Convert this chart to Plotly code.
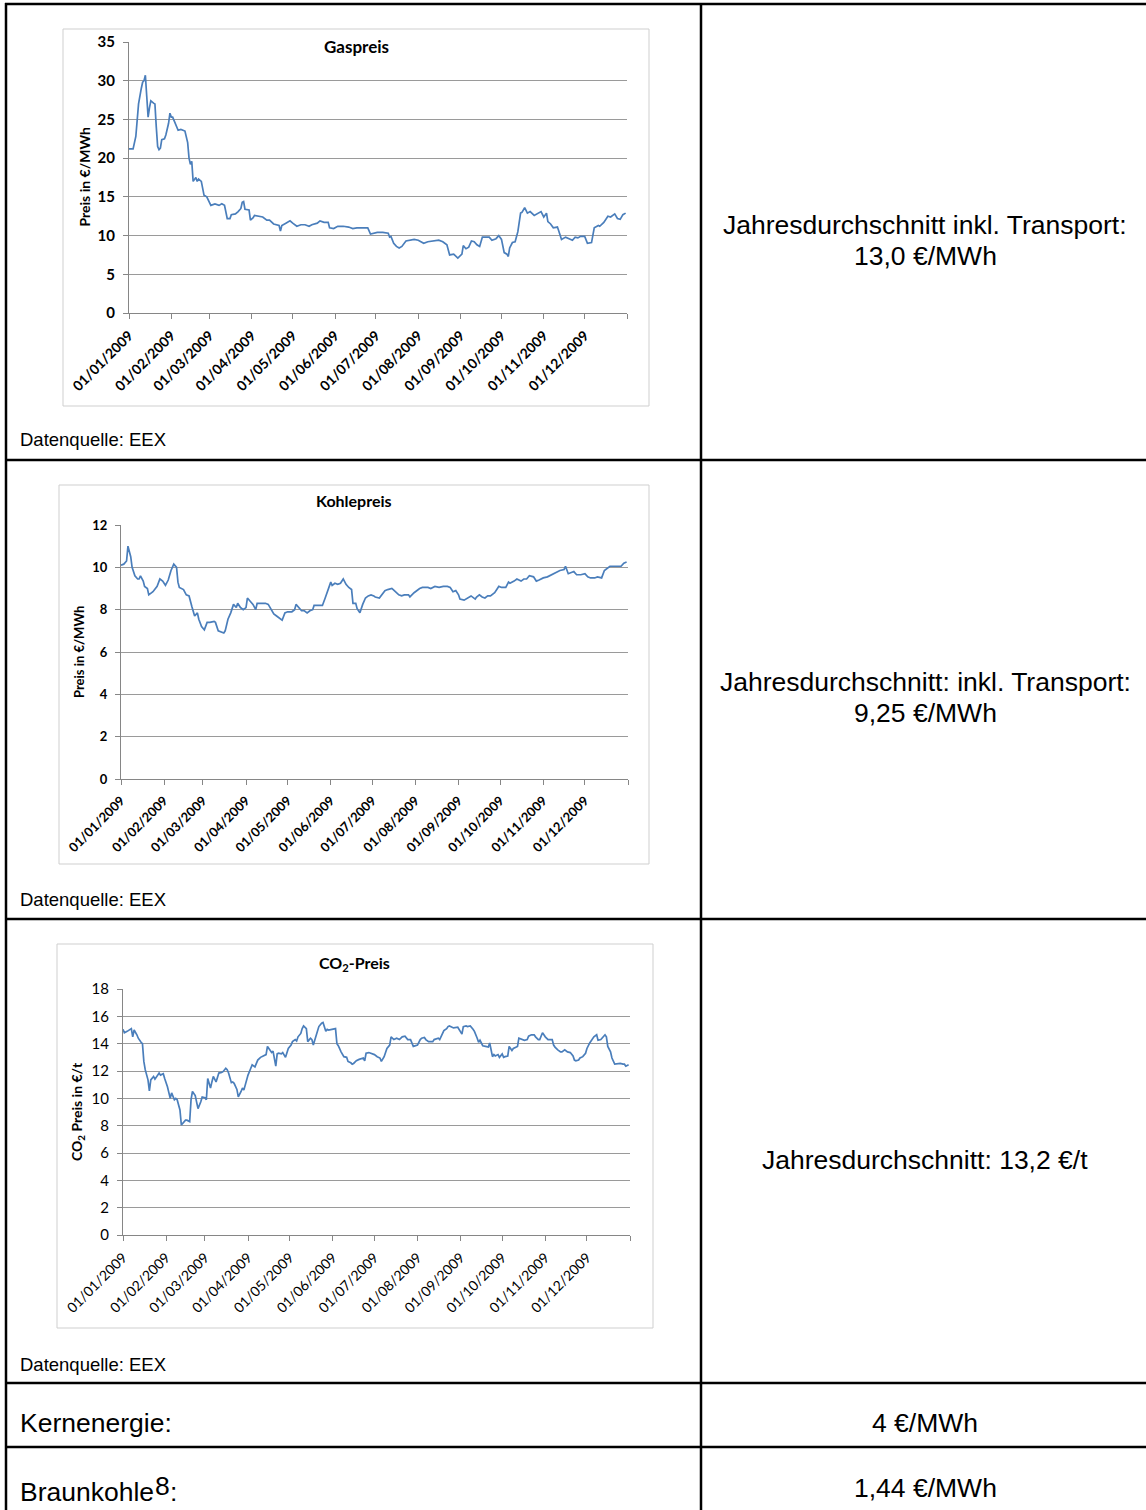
import plotly.graph_objects as go

# ---------------- data ----------------
YEAR = "2009"
month_ticks = ["2009-01-01", "2009-02-01", "2009-03-01", "2009-04-01", "2009-05-01", "2009-06-01",
               "2009-07-01", "2009-08-01", "2009-09-01", "2009-10-01", "2009-11-01", "2009-12-01"]
month_labels = ["01/01/2009", "01/02/2009", "01/03/2009", "01/04/2009", "01/05/2009", "01/06/2009",
                "01/07/2009", "01/08/2009", "01/09/2009", "01/10/2009", "01/11/2009", "01/12/2009"]
axis_end = "2010-01-01"

gas_days = ["01-01", "01-04", "01-06", "01-07", "01-08", "01-10", "01-11", "01-12", "01-13", "01-14",
            "01-15", "01-16", "01-17", "01-19", "01-20", "01-21", "01-22", "01-23", "01-24", "01-25",
            "01-27", "01-28", "01-30", "01-31", "02-01", "02-02", "02-04", "02-05", "02-06", "02-08",
            "02-11", "02-13", "02-14", "02-15", "02-16", "02-17", "02-19", "02-20", "02-21", "02-23",
            "02-25", "02-27", "03-01", "03-02", "03-05", "03-08", "03-10", "03-12", "03-14", "03-16",
            "03-17", "03-20", "03-22", "03-24", "03-25", "03-26", "03-27", "03-30", "03-31", "04-02",
            "04-03", "04-06", "04-09", "04-12", "04-14", "04-17", "04-21", "04-22", "04-23", "04-26",
            "04-29", "05-01", "05-04", "05-07", "05-10", "05-13", "05-15", "05-19", "05-21", "05-24",
            "05-27", "05-28", "05-31", "06-03", "06-07", "06-11", "06-14", "06-17", "06-21", "06-25",
            "06-27", "06-29", "07-02", "07-06", "07-10", "07-11", "07-12", "07-14", "07-16", "07-18",
            "07-20", "07-23", "07-26", "07-29", "08-01", "08-03", "08-05", "08-08", "08-12", "08-16",
            "08-19", "08-22", "08-24", "08-27", "08-30", "09-02", "09-03", "09-05", "09-07", "09-09",
            "09-11", "09-13", "09-15", "09-17", "09-20", "09-22", "09-24", "09-27", "09-29", "10-01",
            "10-03", "10-05", "10-06", "10-07", "10-09", "10-11", "10-13", "10-15", "10-16", "10-18",
            "10-20", "10-22", "10-25", "10-27", "10-30", "11-01", "11-03", "11-04", "11-06", "11-08",
            "11-11", "11-12", "11-14", "11-17", "11-19", "11-22", "11-24", "11-26", "11-28", "12-01",
            "12-03", "12-06", "12-08", "12-11", "12-12", "12-15", "12-18", "12-20", "12-23", "12-25",
            "12-27", "12-29", "12-31"]
gas_values = [21.2, 21.2, 22.8, 25.0, 27.0, 29.0, 29.8, 30.0, 30.7, 28.0,
              25.3, 26.5, 27.4, 27.1, 27.0, 24.0, 21.5, 21.1, 21.3, 22.4,
              22.5, 23.0, 24.5, 25.8, 25.3, 25.3, 24.5, 24.0, 23.6, 23.7,
              23.5, 22.0, 20.0, 19.2, 19.6, 17.0, 17.5, 17.0, 17.3, 17.0,
              15.2, 15.0, 14.2, 13.9, 14.1, 13.9, 14.1, 13.9, 12.2, 12.2,
              12.7, 12.8, 13.1, 13.5, 14.3, 14.4, 13.4, 13.3, 12.0, 12.3,
              12.6, 12.5, 12.4, 12.0, 12.0, 11.5, 11.3, 10.6, 11.3, 11.6,
              11.9, 11.6, 11.2, 11.4, 11.4, 11.2, 11.4, 11.6, 11.9, 11.7,
              11.7, 11.0, 10.9, 11.2, 11.2, 11.1, 10.9, 11.0, 11.0, 11.0,
              10.2, 10.3, 10.4, 10.4, 10.3, 9.8, 9.9, 9.0, 8.6, 8.4,
              8.6, 9.3, 9.4, 9.5, 9.4, 9.2, 9.0, 9.2, 9.3, 9.4,
              9.2, 8.8, 7.5, 7.6, 7.1, 7.6, 8.7, 8.3, 8.5, 9.3,
              9.2, 8.8, 8.6, 9.8, 9.8, 9.8, 9.4, 9.6, 10.0, 9.5,
              7.8, 7.6, 7.3, 8.4, 9.1, 9.2, 10.5, 12.9, 13.0, 13.6,
              12.9, 13.1, 12.6, 12.8, 13.1, 12.4, 12.9, 11.8, 11.5, 11.0,
              11.1, 10.6, 9.5, 9.8, 9.6, 9.4, 9.8, 9.7, 9.9, 9.9,
              9.0, 9.1, 11.0, 11.3, 11.2, 11.7, 12.5, 12.4, 12.8, 12.2,
              12.1, 12.7, 12.9]

coal_days = ["01-01", "01-03", "01-05", "01-06", "01-08", "01-09", "01-11", "01-13", "01-14", "01-15",
             "01-17", "01-18", "01-20", "01-21", "01-24", "01-26", "01-27", "01-29", "01-31", "02-02",
             "02-04", "02-06", "02-08", "02-10", "02-11", "02-12", "02-15", "02-17", "02-19", "02-21",
             "02-23", "02-25", "02-26", "02-28", "03-02", "03-04", "03-06", "03-09", "03-10", "03-12",
             "03-14", "03-16", "03-17", "03-19", "03-21", "03-23", "03-25", "03-26", "03-28", "03-30",
             "04-01", "04-02", "04-04", "04-06", "04-08", "04-09", "04-12", "04-15", "04-17", "04-19",
             "04-21", "04-23", "04-25", "04-27", "04-29", "05-01", "05-04", "05-06", "05-07", "05-09",
             "05-11", "05-13", "05-15", "05-17", "05-19", "05-20", "05-23", "05-26", "05-28", "05-30",
             "06-01", "06-02", "06-04", "06-06", "06-08", "06-10", "06-12", "06-14", "06-16", "06-17",
             "06-19", "06-20", "06-22", "06-24", "06-26", "06-28", "06-30", "07-02", "07-03", "07-06",
             "07-08", "07-10", "07-12", "07-15", "07-16", "07-18", "07-20", "07-22", "07-24", "07-27",
             "07-28", "07-31", "08-02", "08-04", "08-06", "08-10", "08-12", "08-15", "08-18", "08-21",
             "08-24", "08-26", "08-28", "08-30", "09-01", "09-02", "09-05", "09-08", "09-10", "09-13",
             "09-14", "09-16", "09-18", "09-20", "09-22", "09-24", "09-27", "09-29", "09-30", "10-02",
             "10-05", "10-07", "10-08", "10-11", "10-13", "10-16", "10-18", "10-20", "10-22", "10-25",
             "10-27", "10-29", "11-01", "11-04", "11-07", "11-10", "11-13", "11-16", "11-17", "11-19",
             "11-21", "11-23", "11-25", "11-28", "12-01", "12-03", "12-05", "12-08", "12-10", "12-13",
             "12-15", "12-17", "12-19", "12-21", "12-24", "12-27", "12-29", "12-31"]
coal_values = [10.1, 10.15, 10.3, 11.0, 10.5, 10.0, 9.6, 9.45, 9.45, 9.6,
               9.35, 9.1, 9.0, 8.7, 8.85, 9.0, 9.1, 9.45, 9.35, 9.15,
               9.4, 9.85, 10.15, 10.0, 9.3, 9.05, 8.95, 8.7, 8.65, 8.15,
               7.7, 7.85, 7.55, 7.2, 7.05, 7.4, 7.4, 7.45, 7.4, 7.0,
               6.95, 6.9, 7.0, 7.55, 7.85, 8.25, 8.1, 8.3, 8.1, 8.0,
               8.1, 8.55, 8.4, 8.25, 8.0, 8.3, 8.3, 8.3, 8.25, 8.0,
               7.8, 7.7, 7.6, 7.5, 7.85, 7.9, 7.9, 8.0, 8.25, 8.1,
               7.95, 7.95, 7.85, 7.95, 8.0, 8.2, 8.2, 8.2, 8.55, 8.9,
               9.3, 9.15, 9.25, 9.2, 9.25, 9.45, 9.2, 9.05, 8.95, 8.3,
               8.3, 8.05, 7.85, 8.25, 8.55, 8.65, 8.7, 8.65, 8.6, 8.55,
               8.7, 8.9, 8.95, 9.0, 8.95, 8.8, 8.7, 8.65, 8.7, 8.7,
               8.6, 8.8, 8.9, 9.0, 9.05, 9.05, 9.0, 9.1, 9.05, 9.1,
               9.1, 9.05, 8.85, 8.9, 8.7, 8.5, 8.45, 8.55, 8.65, 8.5,
               8.6, 8.7, 8.6, 8.55, 8.65, 8.65, 8.8, 9.0, 9.1, 9.05,
               9.05, 9.3, 9.25, 9.35, 9.45, 9.35, 9.45, 9.45, 9.6, 9.55,
               9.35, 9.4, 9.5, 9.55, 9.65, 9.75, 9.85, 9.9, 10.05, 9.7,
               9.75, 9.8, 9.65, 9.65, 9.7, 9.55, 9.5, 9.5, 9.55, 9.5,
               9.85, 9.95, 10.05, 10.05, 10.05, 10.05, 10.2, 10.25]

co2_days = ["01-01", "01-02", "01-04", "01-05", "01-07", "01-08", "01-09", "01-11", "01-12", "01-14",
            "01-15", "01-16", "01-17", "01-19", "01-20", "01-21", "01-23", "01-24", "01-26", "01-27",
            "01-28", "01-30", "01-31", "02-01", "02-02", "02-04", "02-05", "02-07", "02-08", "02-09",
            "02-11", "02-12", "02-14", "02-15", "02-16", "02-18", "02-19", "02-20", "02-22", "02-23",
            "02-24", "02-26", "02-27", "03-01", "03-02", "03-03", "03-05", "03-06", "03-07", "03-09",
            "03-10", "03-11", "03-13", "03-14", "03-16", "03-17", "03-18", "03-20", "03-21", "03-22",
            "03-24", "03-25", "03-27", "03-28", "03-29", "03-31", "04-01", "04-03", "04-04", "04-06",
            "04-07", "04-08", "04-10", "04-12", "04-14", "04-15", "04-17", "04-18", "04-19", "04-21",
            "04-22", "04-23", "04-25", "04-26", "04-28", "04-29", "04-30", "05-02", "05-03", "05-05",
            "05-06", "05-07", "05-09", "05-10", "05-11", "05-13", "05-14", "05-16", "05-17", "05-18",
            "05-20", "05-21", "05-22", "05-24", "05-25", "05-27", "05-28", "05-29", "05-31", "06-01",
            "06-03", "06-04", "06-05", "06-07", "06-08", "06-09", "06-11", "06-12", "06-14", "06-15",
            "06-16", "06-18", "06-20", "06-23", "06-24", "06-25", "06-27", "06-29", "07-01", "07-03",
            "07-05", "07-06", "07-08", "07-10", "07-12", "07-13", "07-15", "07-17", "07-19", "07-21",
            "07-23", "07-25", "07-27", "07-29", "07-30", "08-01", "08-03", "08-04", "08-06", "08-07",
            "08-09", "08-12", "08-13", "08-16", "08-17", "08-19", "08-20", "08-22", "08-23", "08-24",
            "08-26", "08-27", "08-30", "08-31", "09-02", "09-03", "09-05", "09-06", "09-08", "09-10",
            "09-11", "09-13", "09-14", "09-15", "09-17", "09-19", "09-21", "09-22", "09-24", "09-25",
            "09-26", "09-28", "09-29", "10-01", "10-02", "10-03", "10-05", "10-06", "10-08", "10-09",
            "10-12", "10-13", "10-15", "10-17", "10-19", "10-20", "10-22", "10-24", "10-25", "10-27",
            "10-28", "10-30", "10-31", "11-01", "11-03", "11-06", "11-07", "11-08", "11-10", "11-12",
            "11-13", "11-15", "11-17", "11-19", "11-21", "11-22", "11-23", "11-25", "11-26", "11-28",
            "11-30", "12-01", "12-03", "12-05", "12-06", "12-08", "12-09", "12-11", "12-12", "12-14",
            "12-15", "12-16", "12-18", "12-19", "12-21", "12-23", "12-25", "12-27", "12-28", "12-29",
            "12-31"]
co2_values = [15.05, 14.8, 14.9, 14.95, 15.1, 14.5, 15.0, 14.65, 14.4, 14.1,
              14.0, 12.7, 12.1, 11.35, 10.55, 11.35, 11.6, 11.4, 11.7, 11.85,
              11.7, 11.8, 11.45, 11.2, 10.85, 10.0, 10.4, 9.9, 10.0, 9.9,
              9.15, 8.05, 8.3, 8.4, 8.4, 8.3, 9.9, 10.5, 10.2, 9.7,
              9.25, 9.75, 10.1, 10.05, 9.9, 11.45, 10.75, 11.2, 11.6, 11.2,
              11.6, 11.85, 11.9, 11.95, 12.2, 12.1, 11.85, 11.15, 11.2, 11.1,
              10.65, 10.1, 10.5, 10.75, 10.6, 11.35, 11.7, 12.2, 12.45, 12.3,
              12.6, 12.8, 13.0, 13.1, 13.2, 13.8, 13.45, 13.35, 13.45, 12.35,
              13.25, 13.3, 13.25, 13.35, 13.0, 13.35, 13.65, 13.9, 14.15, 14.3,
              14.2, 14.5, 14.75, 15.1, 15.3, 15.1, 14.15, 14.4, 14.3, 13.9,
              14.5, 14.9, 15.25, 15.5, 15.55, 14.9, 15.05, 15.0, 15.05, 15.1,
              15.1, 14.0, 13.85, 13.4, 13.2, 13.05, 13.0, 12.7, 12.6, 12.5,
              12.55, 12.75, 12.85, 12.95, 12.75, 13.3, 13.35, 13.3, 13.2, 13.05,
              12.95, 12.7, 13.05, 13.65, 13.9, 14.5, 14.3, 14.4, 14.3, 14.5,
              14.55, 14.3, 14.3, 13.8, 13.85, 13.9, 14.3, 14.4, 14.45, 14.3,
              14.15, 14.15, 14.3, 14.4, 14.3, 14.8, 14.95, 15.1, 15.25, 15.3,
              15.2, 15.15, 15.2, 15.05, 14.7, 15.25, 15.3, 15.25, 15.3, 15.05,
              14.9, 14.4, 14.1, 14.25, 13.85, 13.8, 13.75, 14.05, 13.05, 13.2,
              13.1, 13.2, 13.0, 13.25, 13.0, 13.05, 13.1, 13.8, 13.5, 13.65,
              13.8, 14.4, 14.3, 14.25, 14.3, 14.55, 14.65, 14.65, 14.5, 14.3,
              14.3, 14.8, 14.65, 14.5, 14.3, 14.3, 13.9, 13.75, 13.55, 13.4,
              13.4, 13.55, 13.4, 13.35, 13.1, 12.8, 12.75, 12.8, 12.95, 13.05,
              13.3, 13.65, 14.05, 14.3, 14.5, 14.65, 14.25, 14.3, 14.4, 14.65,
              14.5, 13.8, 13.4, 12.95, 12.5, 12.55, 12.55, 12.5, 12.5, 12.35,
              12.45]

chart_titles = ["Gaspreis", "Kohlepreis", "CO<sub>2</sub>-Preis"]
y_titles = ["Preis in €/MWh", "Preis in €/MWh", "CO<sub>2</sub> Preis in €/t"]
y_max = [35, 12, 18]
y_step = [5, 2, 2]

right_texts = [["Jahresdurchschnitt inkl. Transport:", "13,0 €/MWh"],
               ["Jahresdurchschnitt: inkl. Transport:", "9,25 €/MWh"],
               ["Jahresdurchschnitt: 13,2 €/t"]]
source_text = "Datenquelle: EEX"
nuclear_label, nuclear_value = "Kernenergie:", "4 €/MWh"
lignite_label, lignite_note, lignite_colon, lignite_value = "Braunkohle", "8", ":", "1,44 €/MWh"

# ---------------- layout helpers ----------------
W, H = 1146, 1510


def fx(x):
    return x / W


def fy(y):
    return 1 - y / H


LINE_COLOR = "#4A7EBB"
GRID = "#9a9a9a"
AXIS = "#868686"
CHART_FONT = "Lato"
TABLE_FONT = "Liberation Sans, Arial"
TSIZE = 26.5

series = [
    ([f"{YEAR}-{d}" for d in gas_days], gas_values),
    ([f"{YEAR}-{d}" for d in coal_days], coal_values),
    ([f"{YEAR}-{d}" for d in co2_days], co2_values),
]

# plot areas (left, right, top, bottom) in px
plot_areas = [(129, 627, 42, 313), (121, 628, 525, 779), (123, 630, 989, 1235)]
chart_boxes = [(63, 649, 29, 406), (59, 649, 485, 864), (57, 653, 944, 1328)]
title_pos = [(356, 47), (354, 501), (354, 963)]
ytitle_x = [84, 79, 77]
bold = [True, True, False]
ytick_size = [15, 13, 15]
xtick_size = [14, 13, 14]
title_size = [17, 16, 16]
ytitle_size = [14, 13, 14]

fig = go.Figure()
layout = dict(
    template="none",
    width=W, height=H, autosize=False,
    margin=dict(l=0, r=0, t=0, b=0, pad=0),
    paper_bgcolor="white", plot_bgcolor="white", showlegend=False,
)
annotations = []
shapes = []

for i in range(3):
    xs, ys = series[i]
    xn = "x" if i == 0 else f"x{i+1}"
    yn = "y" if i == 0 else f"y{i+1}"
    fig.add_trace(go.Scatter(x=xs, y=ys, mode="lines", xaxis=xn, yaxis=yn,
                             line=dict(color=LINE_COLOR, width=1.7), hoverinfo="skip"))
    l, r, t, b = plot_areas[i]
    weight = "bold" if bold[i] else "normal"
    xkey = "xaxis" if i == 0 else f"xaxis{i+1}"
    ykey = "yaxis" if i == 0 else f"yaxis{i+1}"
    layout[xkey] = dict(
        domain=[fx(l), fx(r)], anchor=yn, type="date", automargin=False,
        range=[month_ticks[0], axis_end],
        tickmode="array", tickvals=month_ticks, ticktext=month_labels,
        tickangle=-45, ticks="outside", ticklen=5, tickcolor=AXIS, tickwidth=1,
        minor=dict(tickmode="array", tickvals=[axis_end], ticks="outside", ticklen=5,
                   tickcolor=AXIS, tickwidth=1, showgrid=False),
        showline=True, linecolor=AXIS, linewidth=1, showgrid=False, zeroline=False,
        ticklabelstandoff=3,
        tickfont=dict(family=CHART_FONT, size=xtick_size[i], color="black", weight=weight),
    )
    layout[ykey] = dict(
        domain=[fy(b), fy(t)], anchor=xn, range=[0, y_max[i]], dtick=y_step[i], tick0=0,
        automargin=False,
        ticks="outside", ticklen=5, tickcolor=AXIS, tickwidth=1,
        showline=True, linecolor=AXIS, linewidth=1, showgrid=True, gridcolor=GRID, gridwidth=1,
        zeroline=False, ticklabelstandoff=5,
        tickfont=dict(family=CHART_FONT, size=ytick_size[i], color="black", weight=weight),
    )
    bl, br, bt, bb = chart_boxes[i]
    shapes.append(dict(type="rect", xref="paper", yref="paper", x0=fx(bl), x1=fx(br), y0=fy(bb), y1=fy(bt),
                       line=dict(color="#cfcfcf", width=1), layer="below"))
    tx, ty = title_pos[i]
    annotations.append(dict(text=chart_titles[i], xref="paper", yref="paper", x=fx(tx), y=fy(ty),
                            xanchor="center", yanchor="middle", showarrow=False,
                            font=dict(family=CHART_FONT, size=title_size[i], color="black", weight="bold")))
    annotations.append(dict(text=y_titles[i], xref="paper", yref="paper", x=fx(ytitle_x[i]),
                            y=fy((t + b) / 2), xanchor="center", yanchor="middle", showarrow=False,
                            textangle=-90,
                            font=dict(family=CHART_FONT, size=ytitle_size[i], color="black", weight="bold")))

# ---------------- table ----------------
TBL = dict(color="black", width=2.5)
h_lines = [4, 460, 919, 1383, 1447]
for yy in h_lines:
    shapes.append(dict(type="line", xref="paper", yref="paper", x0=fx(5), x1=1, y0=fy(yy), y1=fy(yy), line=TBL))
shapes.append(dict(type="line", xref="paper", yref="paper", x0=fx(6), x1=fx(6), y0=0, y1=fy(3), line=TBL))
shapes.append(dict(type="line", xref="paper", yref="paper", x0=fx(701), x1=fx(701), y0=0, y1=fy(3), line=TBL))


def text_at(txt, x, y, anchor, size=TSIZE):
    annotations.append(dict(text=txt, xref="paper", yref="paper", x=fx(x), y=fy(y),
                            xanchor=anchor, yanchor="middle", showarrow=False,
                            font=dict(family=TABLE_FONT, size=size, color="black")))


cell_cx = 925
text_rows_y = [[225, 256], [682, 713], [1160]]
for lines, ys_ in zip(right_texts, text_rows_y):
    for txt, yy in zip(lines, ys_):
        text_at(txt, cell_cx, yy, "center")

for yy in [440, 899, 1364]:
    text_at(source_text, 18, yy, "left", 18.5)

text_at(nuclear_label, 18, 1423, "left")
text_at(nuclear_value, cell_cx, 1423, "center")
text_at(lignite_label, 18, 1492, "left")
text_at(lignite_note, 153, 1486, "left")
text_at(lignite_colon, 168, 1492, "left")
text_at(lignite_value, cell_cx, 1488, "center")

layout["annotations"] = annotations
layout["shapes"] = shapes
fig.update_layout(**layout)
fig.write_html("out.html", config={"displayModeBar": False},
               post_script="document.body.style.margin='0px';")
